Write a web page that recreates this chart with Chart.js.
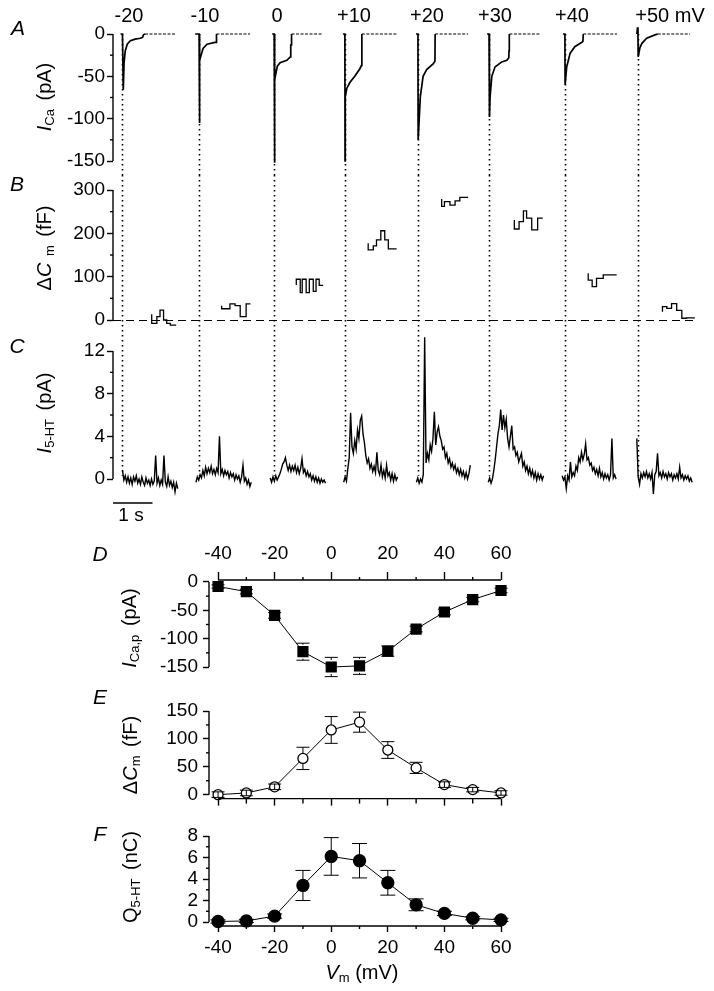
<!DOCTYPE html>
<html>
<head>
<meta charset="utf-8">
<title>Ca current, capacitance and 5-HT release</title>
<script src="https://cdn.jsdelivr.net/npm/chart.js@4.4.1/dist/chart.umd.min.js"></script>
<style>
  body { margin: 0; background: #fff; }
  #fig { position: relative; width: 714px; height: 991px; overflow: hidden;
         font-family: "Liberation Sans", Arial, sans-serif; color: #000; }
  #fig canvas { position: absolute; left: 0; }
  .lbl { position: absolute; white-space: nowrap; font-size: 19px; line-height: 1;
         transform: translate(-50%, -50%); }
  .rot { transform: translate(-50%, -50%) rotate(-90deg); font-size: 20px; word-spacing: 3px; }
  .pan { font-style: italic; font-size: 21px; }
  .lbl sub { font-size: 13px; vertical-align: -3px; }
</style>
</head>
<body>
<div id="fig">
  <canvas id="chartA" width="714" height="175" style="top:0"></canvas>
  <canvas id="chartB" width="714" height="160" style="top:175px"></canvas>
  <canvas id="chartC" width="714" height="185" style="top:335px"></canvas>
  <canvas id="chartD" width="714" height="160" style="top:530px"></canvas>
  <canvas id="chartE" width="714" height="125" style="top:690px"></canvas>
  <canvas id="chartF" width="714" height="176" style="top:815px"></canvas>

  <div class="lbl pan" style="left:18px;top:27px">A</div>
  <div class="lbl pan" style="left:17px;top:183px">B</div>
  <div class="lbl pan" style="left:17px;top:345px">C</div>
  <div class="lbl pan" style="left:100px;top:553px">D</div>
  <div class="lbl pan" style="left:100px;top:696px">E</div>
  <div class="lbl pan" style="left:100px;top:833px">F</div>

  <div class="lbl rot" style="left:45px;top:97px"><i>I</i><sub>Ca</sub> (pA)</div>
  <div class="lbl rot" style="left:45px;top:248px">&Delta;<i>C</i><sub> m</sub> (fF)</div>
  <div class="lbl rot" style="left:45px;top:413px"><i>I</i><sub>5-HT</sub> (pA)</div>
  <div class="lbl rot" style="left:130px;top:628px"><i>I</i><sub>Ca,p</sub> (pA)</div>
  <div class="lbl rot" style="left:131px;top:755px">&Delta;<i>C</i><sub>m</sub> (fF)</div>
  <div class="lbl rot" style="left:131px;top:877px">Q<sub>5-HT</sub> (nC)</div>
  <div class="lbl" style="left:362px;top:973px;font-size:20px"><i>V</i><sub>m</sub> (mV)</div>
  <div class="lbl" style="left:131px;top:514px">1 s</div>
</div>

<script>
// ---- values ----
const stepLabels = ['-20', '-10', '0', '+10', '+20', '+30', '+40', '+50 mV'];
// start of each depolarising step on the common time axis (s)
const onsets = [0.24, 2.18, 4.08, 5.87, 7.72, 9.52, 11.44, 13.29];

// A: Ca current, [time from onset (s), pA]
const caTraces = [
  [[-0.05, 0], [0, 0], [0.02, -66], [0.04, -34], [0.07, -20], [0.12, -12], [0.2, -8], [0.32, -6], [0.45, -5], [0.51, -4], [0.53, -1], [0.57, 0]],
  [[-0.1, 0], [0, 0], [0.005, -105], [0.02, -31], [0.1, -17], [0.2, -12], [0.4, -10], [0.43, -10], [0.44, 0]],
  [[-0.05, 0], [0, 0], [0.005, -152], [0.02, -54], [0.08, -38], [0.15, -34], [0.32, -31], [0.41, -27], [0.42, -13], [0.43, -13], [0.44, 0]],
  [[-0.05, 0], [0, 0], [0.005, -150], [0.01, -74], [0.05, -64], [0.13, -57], [0.25, -50], [0.38, -41], [0.42, -37], [0.43, 0]],
  [[-0.05, 0], [0, 0], [0.005, -125], [0.06, -74], [0.13, -50], [0.22, -42], [0.39, -35], [0.43, -32], [0.435, 0]],
  [[-0.05, 0], [0, 0], [0.01, -98], [0.025, -75], [0.07, -50], [0.15, -39], [0.32, -33], [0.45, -31], [0.5, -28], [0.505, -20], [0.51, -20], [0.515, 0]],
  [[-0.05, 0], [0, 0], [0.005, -60], [0.045, -39], [0.13, -23], [0.25, -15], [0.42, -10], [0.455, -9], [0.465, 0]],
  [[-0.03, 0], [-0.01, 8], [0, 0], [0.005, -27], [0.05, -16], [0.1, -11], [0.22, -5], [0.43, -1], [0.5, 0]]
];
const caTailEnds = [1.34, 1.29, 1.24, 1.32, 1.27, 1.29, 1.32, 1.32];

// B: capacitance change, [time from onset (s), fF], value held until next point
const cmTraces = [
  [[0.74, 13], [0.87, -8], [0.95, 8], [1.04, 23], [1.12, 0], [1.21, -8], [1.28, -12], [1.36, -12]],
  [[0.57, 33], [0.78, 26], [0.91, 37], [1.04, 33], [1.19, 8], [1.29, 37], [1.3, 37]],
  [[0.56, 81], [0.66, 94], [0.71, 63], [0.81, 94], [0.89, 63], [0.99, 94], [1.06, 66], [1.14, 94], [1.19, 80], [1.24, 80]],
  [[0.59, 177], [0.72, 162], [0.8, 171], [0.91, 185], [1.01, 206], [1.1, 185], [1.2, 164], [1.31, 164]],
  [[0.6, 279], [0.67, 262], [0.81, 273], [0.94, 265], [1.06, 275], [1.19, 283], [1.27, 283]],
  [[0.64, 231], [0.76, 210], [0.87, 227], [0.95, 252], [1.08, 235], [1.23, 208], [1.29, 235], [1.36, 235]],
  [[0.59, 108], [0.69, 92], [0.8, 77], [0.97, 96], [1.1, 104], [1.31, 104]],
  [[0.62, 19], [0.73, 31], [0.85, 27], [0.98, 38], [1.11, 22], [1.23, 4], [1.32, 5], [1.44, 5]]
];

// C: 5-HT amperometric current (pA), one sample every 35 ms from htStarts
const htStarts = [0, -0.08, -0.1, -0.03, -0.04, -0.02, -0.07, -0.03];
const htDt = 0.035;
const htTraces = [
  [0.8, -0.1, 0.3, -0.3, 0.2, -0.4, 0.1, -0.5, 0.2, -0.2, 0.3, -0.4, 0, -0.5, 0.2, -0.3, -0.6, 0.1, -0.4, -0.1, -0.6, 0, -0.5, -0.2, 2.2, -0.4, 0.1, -0.6, -0.1, -0.5, 2.2, -0.3, -0.7, 0.2, -0.6, -0.2, -0.8, -0.3, -1.2, -0.4, -0.9],
  [-0.3, 0.2, -0.1, 0.4, 0.1, 0.8, 0.3, 1.1, 0.5, 1.0, 0.6, 1.2, 0.5, 0.9, 0.4, 1.0, 0.6, 4.0, 0.5, 0.9, 0.3, 0.8, 0.4, 0.7, 0.1, 0.6, 0.2, 0.5, -0.1, 0.4, 0, 0.3, -0.3, 0.2, 1.3, -0.2, 0.1, -0.5, -0.1, -0.7, -0.3],
  [0.1, -0.3, 0.2, -0.2, 0.3, -0.1, 0.2, 0.5, 0.9, 1.4, 1.6, 2.0, 1.3, 0.8, 1.3, 0.7, 1.2, 0.8, 1.3, 0.6, 1.1, 0.5, 1.0, 1.9, 0.6, 0.9, 0.3, 0.7, 0.2, 0.5, -0.1, 0.3, -0.2, 0.2, -0.3, 0.1, -0.4, 0, -0.3, -0.1, -0.4],
  [-0.3, 0.2, -0.2, 1.0, 2.0, 6.2, 3.0, 2.4, 3.6, 2.8, 4.6, 3.8, 5.5, 5.9, 4.2, 3.4, 2.2, 1.5, 1.9, 1.0, 1.4, 0.7, 1.2, 0.6, 2.5, 0.8, 0.4, 1.3, 0.2, 0.8, 0.1, 1.3, 0.3, 0.6, -0.1, 0.5, -0.2, 0.4, -0.1, 0.2],
  [-0.3, 0.1, -0.4, 0, -0.3, 0.4, 13.3, 1.5, 2.4, 1.8, 3.2, 2.6, 3.8, 6.3, 3.2, 4.4, 4.9, 4.0, 3.6, 2.8, 3.0, 2.0, 2.4, 1.5, 1.9, 1.1, 1.5, 0.9, 1.3, 0.6, 1.0, 0.4, 0.9, 0.3, 0.7, 0.1, 0.6, 0, 0.5, 1.3],
  [-0.3, 0.1, -0.4, 0, 0.8, 1.8, 3.0, 4.2, 5.0, 6.5, 4.6, 6.0, 4.8, 5.6, 3.8, 3.0, 4.0, 5.0, 2.8, 3.0, 2.2, 2.5, 1.6, 2.0, 2.4, 1.2, 1.6, 0.8, 1.2, 0.5, 1.0, 0.3, 0.8, 0.1, 0.6, -0.1, 0.5, 0, 0.4, -0.1, 0.3],
  [0.3, -0.1, 0.2, -0.9, 0.3, -0.1, 1.6, 0.2, 0.6, 0.3, 1.2, 0.8, 2.0, 1.6, 2.5, 1.8, 2.3, 3.3, 1.8, 2.0, 1.3, 1.5, 0.8, 1.1, 0.5, 0.9, 0.3, 1.0, 0.2, 0.6, 0, 0.5, 0.1, 0.4, -0.1, 0.4, 3.8, 0.1, 0.4, 0],
  [3.8, 0.2, -0.5, 0.5, 0.1, 0.6, 0.2, 0.7, 0.1, 0.5, 0, 0.6, -1.4, 0.4, 0.7, 2.4, 0.3, 0.6, 0.1, 0.7, 0.2, 0.5, 0, 0.6, 0.2, 0.5, -0.1, 0.4, 0.1, 0.5, 0, 1.1, 0.1, 0.4, -0.1, 0.3, 0, 0.3, -0.2, 0.1, -0.3]
];

// D-F: summary vs. membrane potential
const vm = [-40, -30, -20, -10, 0, 10, 20, 30, 40, 50, 60];
const icaPeak = [-8, -17, -59, -123, -150, -148, -122, -83, -53, -31, -15];
const icaErr = [3, 4, 5, 15, 17, 15, 9, 5, 5, 4, 4];
const dCm = [0, 3, 14, 65, 116, 130, 80, 48, 18, 9, 3];
const dCmErr = [5, 5, 5, 20, 24, 18, 15, 10, 5, 4, 4];
const q5ht = [0.05, 0.1, 0.55, 3.4, 6.1, 5.7, 3.65, 1.6, 0.8, 0.35, 0.2];
const q5htErr = [0.15, 0.15, 0.2, 1.4, 1.75, 1.6, 1.15, 0.55, 0.2, 0.15, 0.15];

// tick values
const ticksA = [0, -50, -100, -150], minorA = [-25, -75, -125];
const ticksB = [0, 100, 200, 300], minorB = [50, 150, 250];
const ticksC = [0, 4, 8, 12], minorC = [2, 6, 10];
const ticksVm = [-40, -20, 0, 20, 40, 60], minorVm = [-30, -10, 10, 30, 50];
const ticksD = [0, -50, -100, -150], minorD = [-25, -75, -125];
const ticksE = [0, 50, 100, 150], minorE = [25, 75, 125];
const ticksF = [0, 2, 4, 6, 8], minorF = [1, 3, 5, 7];

// ---- drawing ----
const tickFont = { family: 'Liberation Sans', size: 19 };
const stepLabelX = [129, 205, 277, 354, 427, 495, 572, 670];
const fig = document.getElementById('fig');
stepLabels.forEach((txt, i) => {
  const d = document.createElement('div');
  d.className = 'lbl';
  d.style.cssText = `left:${stepLabelX[i]}px;top:15px;font-size:20px`;
  d.textContent = txt;
  fig.appendChild(d);
});

// dotted onset lines, trimmed axes, minor ticks, error bars, zero line, scale bar
const figureExtras = {
  id: 'figureExtras',
  beforeDatasetsDraw(chart, args, o) {
    const { ctx, scales: { x, y } } = chart;
    ctx.save();
    ctx.strokeStyle = '#000';
    if (o.onsetLines) {
      const top = o.onsetLines.from == null ? 0 : y.getPixelForValue(o.onsetLines.from);
      const bottom = o.onsetLines.to == null ? chart.height : y.getPixelForValue(o.onsetLines.to);
      ctx.lineWidth = 1.6;
      ctx.setLineDash([1.6, 3.4]);
      onsets.forEach(t => {
        const px = Math.round(x.getPixelForValue(t)) + 0.5;
        ctx.beginPath(); ctx.moveTo(px, top); ctx.lineTo(px, bottom); ctx.stroke();
      });
    }
    if (o.zeroLine) {
      ctx.lineWidth = 1.2;
      ctx.setLineDash([8, 5]);
      const py = Math.round(y.getPixelForValue(0)) + 0.5;
      ctx.beginPath();
      ctx.moveTo(x.getPixelForValue(o.zeroLine.from), py);
      ctx.lineTo(x.getPixelForValue(o.zeroLine.to), py);
      ctx.stroke();
    }
    ctx.restore();
  },
  afterDatasetsDraw(chart, args, o) {
    const { ctx } = chart;
    ctx.save();
    ctx.strokeStyle = '#000';
    ctx.lineWidth = 1.4;
    (o.axisLines || []).forEach(a => {
      const s = chart.scales[a.id];
      ctx.beginPath();
      if (s.isHorizontal()) {
        const py = s.position === 'top' ? s.bottom : s.top;
        ctx.moveTo(s.getPixelForValue(a.from), py); ctx.lineTo(s.getPixelForValue(a.to), py);
      } else {
        ctx.moveTo(s.right, s.getPixelForValue(a.from)); ctx.lineTo(s.right, s.getPixelForValue(a.to));
      }
      ctx.stroke();
    });
    (o.minorTicks || []).forEach(m => {
      const s = chart.scales[m.id];
      m.values.forEach(v => {
        const p = s.getPixelForValue(v);
        ctx.beginPath();
        if (s.isHorizontal()) {
          const py = s.position === 'top' ? s.bottom : s.top;
          ctx.moveTo(p, py); ctx.lineTo(p, py + (s.position === 'top' ? -m.len : m.len));
        } else {
          ctx.moveTo(s.right, p); ctx.lineTo(s.right - m.len, p);
        }
        ctx.stroke();
      });
    });
    if (o.errors) {
      const ds = chart.data.datasets[0];
      const ys = chart.scales.y;
      const r = o.errors.radius, cap = o.errors.cap;
      ctx.lineWidth = 1;
      chart.getDatasetMeta(0).data.forEach((el, i) => {
        const v = ds.data[i].y, e = o.errors.values[i];
        const hi = ys.getPixelForValue(v + e), lo = ys.getPixelForValue(v - e);
        const cx = el.x, cy = el.y;
        ctx.beginPath();
        if (cy - hi > r) {
          ctx.moveTo(cx, hi); ctx.lineTo(cx, cy - r);
          ctx.moveTo(cx, cy + r); ctx.lineTo(cx, lo);
        } else {
          ctx.moveTo(cx, hi); ctx.lineTo(cx, lo);
        }
        ctx.moveTo(cx - cap, hi); ctx.lineTo(cx + cap, hi);
        ctx.moveTo(cx - cap, lo); ctx.lineTo(cx + cap, lo);
        ctx.stroke();
      });
    }
    if (o.scaleBar) {
      const x = chart.scales.x;
      ctx.lineWidth = 1.6;
      ctx.beginPath();
      ctx.moveTo(x.getPixelForValue(o.scaleBar.from), o.scaleBar.y);
      ctx.lineTo(x.getPixelForValue(o.scaleBar.from + o.scaleBar.len), o.scaleBar.y);
      ctx.stroke();
    }
    ctx.restore();
  }
};
Chart.register(figureExtras);

function yAxis(min, max, major, width, pad) {
  return {
    type: 'linear', position: 'left', min, max,
    afterFit: s => { s.width = width; },
    afterBuildTicks: s => { s.ticks = major.map(v => ({ value: v })); },
    border: { display: false },
    grid: { drawOnChartArea: false, tickLength: 6, tickWidth: 1.4, color: '#000' },
    ticks: { color: '#000', font: tickFont, padding: pad, autoSkip: false, callback: v => String(v) }
  };
}

const tAxis = { type: 'linear', display: false, min: 0, max: 14.86 };

function traceChart(id, datasets, y, padTop, padBottom, extras) {
  return new Chart(document.getElementById(id), {
    type: 'line',
    data: { datasets },
    options: {
      responsive: false, animation: false, events: [],
      layout: { padding: { top: padTop, bottom: padBottom, left: 0, right: 14 } },
      scales: { x: tAxis, y },
      elements: { point: { radius: 0 }, line: { tension: 0, borderColor: '#000' } },
      plugins: { legend: { display: false }, tooltip: { enabled: false }, figureExtras: extras }
    }
  });
}

// A
const dsA = [];
caTraces.forEach((tr, i) => {
  const pts = tr.map(([t, v]) => ({ x: onsets[i] + t, y: v }));
  dsA.push({ data: pts, borderWidth: 1.7, clip: false });
  const tEnd = tr[tr.length - 1][0];
  dsA.push({ data: [{ x: onsets[i] + tEnd, y: 0 }, { x: onsets[i] + caTailEnds[i], y: 0 }],
             borderWidth: 1.2, borderDash: [3, 1.5], clip: false });
});
traceChart('chartA', dsA, yAxis(-150, 0, ticksA, 113, 2), 34, 14, {
  onsetLines: { from: 0, to: null },
  axisLines: [{ id: 'y', from: 0, to: -150 }],
  minorTicks: [{ id: 'y', values: minorA, len: 3 }]
});

// B
const dsB = cmTraces.map((tr, i) => ({
  data: tr.map(([t, v]) => ({ x: onsets[i] + t, y: v })),
  borderWidth: 1.3, stepped: 'after', clip: false
}));
traceChart('chartB', dsB, yAxis(0, 300, ticksB, 113, 2), 15, 15, {
  onsetLines: { from: null, to: null },
  zeroLine: { from: 0, to: 14.75 },
  axisLines: [{ id: 'y', from: 0, to: 300 }],
  minorTicks: [{ id: 'y', values: minorB, len: 3 }]
});

// C
const dsC = htTraces.map((tr, i) => ({
  data: tr.map((v, k) => ({ x: onsets[i] + htStarts[i] + k * htDt, y: v })),
  borderWidth: 1.4, clip: false
}));
traceChart('chartC', dsC, yAxis(0, 12, ticksC, 113, 2), 16, 41, {
  onsetLines: { from: null, to: 0.3 },
  axisLines: [{ id: 'y', from: 0, to: 12 }],
  minorTicks: [{ id: 'y', values: minorC, len: 3 }],
  scaleBar: { from: 0, len: 1, y: 168 }
});

// D-F
function vmChart(id, c) {
  const xAxis = {
    type: 'linear', position: c.xPos, min: -43.2, max: 60,
    afterFit: s => { s.height = c.xHeight; },
    afterBuildTicks: s => { s.ticks = ticksVm.map(v => ({ value: v })); },
    border: { display: false },
    grid: { drawOnChartArea: false, tickLength: c.xTick, tickWidth: 1.4, color: '#000' },
    ticks: { color: '#000', font: tickFont, padding: c.xPad, autoSkip: false, maxRotation: 0,
             callback: v => c.xLabels ? String(v) : '' }
  };
  return new Chart(document.getElementById(id), {
    type: 'line',
    data: { datasets: [{
      data: vm.map((v, i) => ({ x: v, y: c.values[i] })),
      borderColor: '#000', borderWidth: 1, clip: false,
      pointStyle: c.pointStyle, pointRadius: c.radius,
      pointBackgroundColor: c.fill, pointBorderColor: '#000', pointBorderWidth: 1.3
    }] },
    options: {
      responsive: false, animation: false, events: [],
      layout: { padding: { top: c.padTop, bottom: c.padBottom, left: 0, right: 213 } },
      scales: { x: xAxis, y: yAxis(c.yMin, c.yMax, c.yTicks, 209, 5) },
      elements: { line: { tension: 0 } },
      plugins: { legend: { display: false }, tooltip: { enabled: false }, figureExtras: {
        axisLines: [{ id: 'y', from: c.yTicks[0], to: c.yTicks[c.yTicks.length - 1] },
                    { id: 'x', from: -40, to: 60 }],
        minorTicks: [{ id: 'y', values: c.yMinor, len: 3 }, { id: 'x', values: minorVm, len: c.xMinorLen }],
        errors: { values: c.err, radius: c.radius, cap: c.cap }
      } }
    }
  });
}

vmChart('chartD', { values: icaPeak, err: icaErr, pointStyle: 'rect', radius: 7, fill: '#000', cap: 6.5,
  yMin: -150, yMax: 3.5, yTicks: ticksD, yMinor: minorD,
  xPos: 'top', xHeight: 50, xTick: 8, xMinorLen: 3, xPad: 7, xLabels: true, padTop: 0, padBottom: 23 });
vmChart('chartE', { values: dCm, err: dCmErr, pointStyle: 'circle', radius: 5, fill: '#fff', cap: 6.5,
  yMin: -7.1, yMax: 150, yTicks: ticksE, yMinor: minorE,
  xPos: 'bottom', xHeight: 16, xTick: 7, xMinorLen: 5, xPad: 2, xLabels: false, padTop: 21, padBottom: 0 });
vmChart('chartF', { values: q5ht, err: q5htErr, pointStyle: 'circle', radius: 6, fill: '#000', cap: 7.5,
  yMin: -0.37, yMax: 8, yTicks: ticksF, yMinor: minorF,
  xPos: 'bottom', xHeight: 40, xTick: 6, xMinorLen: 3, xPad: 4, xLabels: true, padTop: 21, padBottom: 25 });
</script>
</body>
</html>
